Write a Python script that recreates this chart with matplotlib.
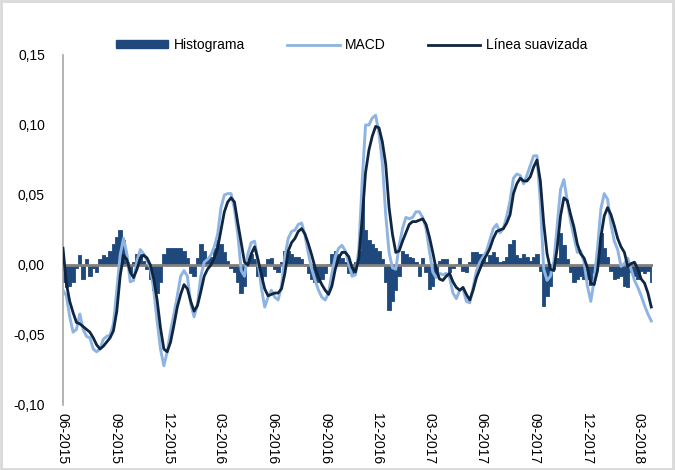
import pandas as pd
import matplotlib.pyplot as plt
from matplotlib.patches import Patch, Rectangle
from matplotlib.lines import Line2D

# Sampled readings (about every 6 days), Jun 2015 - Mar 2018
START = "2015-06-01"
END = "2018-03-24"

macd = [
    -0.018, -0.022, -0.037, -0.048, -0.046, -0.035, -0.046, -0.051, -0.052, -0.060,
    -0.062, -0.060, -0.053, -0.051, -0.050, -0.042, -0.018, 0.007, 0.019, 0.008,
    -0.012, -0.011, 0.003, 0.011, 0.008, 0.003, -0.002, -0.018, -0.040, -0.060,
    -0.072, -0.062, -0.047, -0.035, -0.022, -0.008, -0.004, -0.008, -0.028, -0.037,
    -0.028, -0.008, 0.002, 0.004, 0.007, 0.013, 0.022, 0.041, 0.050, 0.051,
    0.051, 0.040, 0.022, -0.004, -0.008, 0.008, 0.016, 0.017, 0.003, -0.016,
    -0.030, -0.023, -0.018, -0.023, -0.025, -0.015, 0.006, 0.019, 0.024, 0.025,
    0.029, 0.030, 0.021, 0.008, -0.003, -0.011, -0.018, -0.023, -0.025, -0.020,
    -0.006, 0.006, 0.012, 0.014, 0.010, 0.001, -0.008, -0.007, 0.011, 0.060,
    0.100, 0.100, 0.105, 0.107, 0.094, 0.073, 0.036, 0.009, -0.002, -0.003,
    0.014, 0.026, 0.034, 0.033, 0.034, 0.038, 0.038, 0.034, 0.026, 0.010,
    -0.005, -0.009, -0.006, -0.007, -0.006, -0.009, -0.020, -0.024, -0.018, -0.017,
    -0.026, -0.027, -0.016, -0.004, 0.002, 0.006, 0.010, 0.018, 0.026, 0.029,
    0.023, 0.026, 0.035, 0.046, 0.062, 0.065, 0.064, 0.058, 0.064, 0.071,
    0.078, 0.078, 0.045, -0.003, -0.011, -0.008, 0.002, 0.028, 0.054, 0.061,
    0.046, 0.031, 0.020, 0.009, 0.010, 0.002, -0.015, -0.026, -0.011, 0.012,
    0.040, 0.051, 0.047, 0.029, 0.017, 0.011, -0.001, 0.001, 0.005, -0.003,
    -0.011, -0.016, -0.022, -0.029, -0.035, -0.040,
]

signal = [
    0.012, -0.013, -0.026, -0.034, -0.041, -0.042, -0.044, -0.046, -0.048, -0.052,
    -0.057, -0.060, -0.058, -0.055, -0.052, -0.047, -0.033, -0.008, 0.007, 0.004,
    -0.005, -0.009, -0.003, 0.005, 0.007, 0.005, 0.000, -0.010, -0.025, -0.045,
    -0.060, -0.062, -0.055, -0.043, -0.030, -0.021, -0.014, -0.017, -0.026, -0.033,
    -0.029, -0.019, -0.008, -0.003, 0.000, 0.005, 0.012, 0.025, 0.038, 0.045,
    0.048, 0.045, 0.030, 0.016, 0.002, 0.000, 0.008, 0.013, 0.004, -0.007,
    -0.017, -0.022, -0.021, -0.020, -0.020, -0.017, -0.006, 0.010, 0.016, 0.019,
    0.024, 0.026, 0.022, 0.015, 0.007, -0.002, -0.009, -0.014, -0.018, -0.021,
    -0.015, -0.003, 0.005, 0.009, 0.009, 0.006, -0.002, -0.005, 0.005, 0.033,
    0.066, 0.082, 0.092, 0.099, 0.098, 0.088, 0.072, 0.041, 0.022, 0.009,
    0.010, 0.017, 0.023, 0.029, 0.031, 0.031, 0.032, 0.033, 0.029, 0.020,
    0.009, -0.003, -0.010, -0.011, -0.008, -0.006, -0.012, -0.016, -0.018, -0.016,
    -0.021, -0.025, -0.018, -0.009, -0.003, 0.003, 0.007, 0.012, 0.019, 0.024,
    0.025, 0.026, 0.030, 0.036, 0.051, 0.058, 0.062, 0.060, 0.060, 0.063,
    0.070, 0.075, 0.060, 0.030, 0.008, -0.003, -0.004, 0.012, 0.035, 0.048,
    0.046, 0.036, 0.027, 0.015, 0.008, 0.005, -0.002, -0.013, -0.014, -0.004,
    0.020, 0.035, 0.041, 0.036, 0.028, 0.019, 0.013, 0.009, -0.001, 0.001,
    0.002, -0.003, -0.010, -0.013, -0.020, -0.030,
]

histogram = [
    -0.012, -0.016, -0.015, -0.012, -0.002, 0.007, -0.010, 0.004, -0.008, -0.002,
    -0.005, 0.004, 0.007, 0.006, 0.010, 0.015, 0.020, 0.025, 0.018, 0.002,
    -0.005, 0.002, 0.008, 0.008, 0.003, -0.003, -0.010, -0.018, -0.020, -0.012,
    0.008, 0.012, 0.012, 0.012, 0.012, 0.012, 0.010, 0.005, -0.006, -0.008,
    0.005, 0.015, 0.010, 0.004, 0.006, 0.012, 0.018, 0.015, 0.009, 0.003,
    -0.002, -0.005, -0.012, -0.020, -0.015, 0.005, 0.008, 0.004, -0.008, -0.010,
    -0.008, 0.004, 0.005, -0.003, -0.005, 0.002, 0.010, 0.010, 0.008, 0.006,
    0.006, 0.004, 0.001, -0.006, -0.010, -0.012, -0.012, -0.010, -0.006, 0.001,
    0.008, 0.010, 0.008, 0.005, 0.002, -0.006, -0.006, 0.002, 0.010, 0.049,
    0.025, 0.018, 0.015, 0.012, 0.010, 0.004, -0.012, -0.032, -0.026, -0.018,
    -0.008, 0.010, 0.008, 0.006, 0.005, 0.002, -0.008, 0.005, -0.005, -0.017,
    -0.015, -0.008, 0.003, 0.004, 0.004, -0.005, -0.002, 0.001, 0.005, -0.004,
    -0.005, 0.002, 0.009, 0.009, 0.008, 0.004, 0.002, 0.007, 0.009, 0.006,
    0.002, 0.003, 0.006, 0.015, 0.018, 0.007, 0.005, 0.008, 0.006, 0.003,
    0.006, 0.008, -0.004, -0.029, -0.022, -0.015, -0.003, 0.005, 0.023, 0.014,
    0.004, -0.005, -0.012, -0.010, -0.008, -0.010, -0.010, -0.014, -0.006, 0.004,
    0.023, 0.012, 0.006, -0.004, -0.010, -0.009, -0.008, -0.015, -0.016, -0.005,
    -0.008, -0.010, -0.004, -0.006, -0.004, -0.012,
]

tick_months = pd.date_range("2015-06-01", "2018-03-01", freq="3MS")
y_ticks = [-0.10, -0.05, 0.00, 0.05, 0.10, 0.15]

HIST_COLOR = "#1F497D"
MACD_COLOR = "#8DB4E2"
SIGNAL_COLOR = "#10253F"


def plot_macd():
    plt.rcParams["font.family"] = ["Liberation Sans", "DejaVu Sans"]
    dates = pd.date_range(START, END, periods=len(macd))

    fig = plt.figure(figsize=(6.76, 4.70), dpi=100)
    ax = fig.add_axes([63 / 676, 65 / 470, 590 / 676, 350 / 470])

    # solid histogram area, one step per sample
    ax.fill_between(dates, histogram, 0, step="mid", color=HIST_COLOR,
                    linewidth=0.6, edgecolor=HIST_COLOR, zorder=1)
    ax.axhline(0, color="#808080", linewidth=2.0, zorder=2)
    ax.plot(dates, macd, color=MACD_COLOR, linewidth=2.1, zorder=3)
    ax.plot(dates, signal, color=SIGNAL_COLOR, linewidth=2.0, zorder=4)

    ax.set_ylim(-0.10, 0.15)
    ax.set_xlim(dates[0], dates[-1] + pd.Timedelta(days=3))
    ax.set_yticks(y_ticks)
    ax.set_yticklabels([f"{v:.2f}".replace(".", ",") for v in y_ticks])
    ax.set_xticks(tick_months)
    ax.set_xticklabels([d.strftime("%m-%Y") for d in tick_months],
                       rotation=-90, va="top", ha="center")
    ax.tick_params(axis="y", length=0, pad=13, labelsize=10)
    ax.tick_params(axis="x", length=0, pad=6, labelsize=10)

    for side in ["top", "right", "bottom"]:
        ax.spines[side].set_visible(False)
    ax.spines["left"].set_color("#A6A6A6")
    ax.spines["left"].set_linewidth(1.2)

    handles = [
        Patch(facecolor=HIST_COLOR, edgecolor=HIST_COLOR),
        Line2D([], [], color=MACD_COLOR, linewidth=2),
        Line2D([], [], color=SIGNAL_COLOR, linewidth=2),
    ]
    fig.legend(handles, ["Histograma", "MACD", "Línea suavizada"],
               loc="center", bbox_to_anchor=(0.52, 0.904), ncol=3,
               frameon=False, fontsize=10, handlelength=3.8,
               handleheight=0.5, handletextpad=0.4, columnspacing=3.0)

    # light frame round the whole chart
    fig.patches.append(Rectangle((0.002, 0.003), 0.993, 0.994, transform=fig.transFigure,
                                 fill=False, edgecolor="#D9D9D9", linewidth=2))

    fig.savefig("out.png", dpi=100)


def main():
    plot_macd()


if __name__ == "__main__":
    main()
